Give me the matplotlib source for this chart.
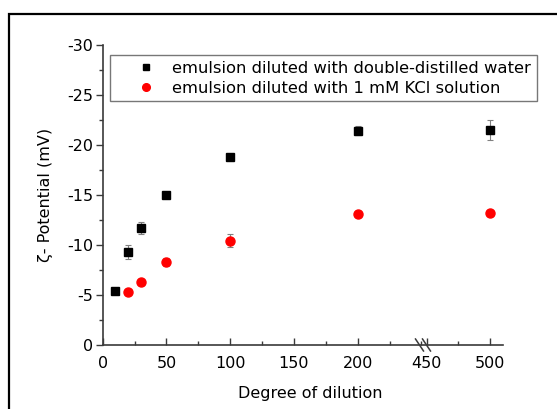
import numpy as np
import matplotlib
matplotlib.use("Agg")
import matplotlib.pyplot as plt
from matplotlib.patches import Rectangle

plt.rcParams['font.family'] = ['DejaVu Sans']

# Data
x_water = [10, 20, 30, 50, 100, 200, 500]
y_water = [-5.4, -9.3, -11.7, -15.0, -18.8, -21.4, -21.5]
e_water = [0.2, 0.7, 0.6, 0.2, 0.2, 0.45, 1.0]
x_kcl = [20, 30, 50, 100, 200, 500]
y_kcl = [-5.3, -6.3, -8.3, -10.4, -13.1, -13.2]
e_kcl = [0.2, 0.2, 0.4, 0.65, 0.2, 0.2]
label_water = "emulsion diluted with double-distilled water"
label_kcl = "emulsion diluted with 1 mM KCl solution"
x_major = [0, 50, 100, 150, 200, 450, 500]
x_minor = [25, 75, 125, 175, 225, 250, 475]
y_major = [0, -5, -10, -15, -20, -25, -30]

BRK_LO, BRK_HI, GAP = 250, 450, 4.0

def fwd(x):
    x = np.asarray(x, dtype=float)
    return np.where(x <= BRK_LO, x,
                    np.where(x >= BRK_HI, x - BRK_HI + BRK_LO + GAP,
                             BRK_LO + (x - BRK_LO) * GAP / (BRK_HI - BRK_LO)))

def inv(u):
    u = np.asarray(u, dtype=float)
    return np.where(u <= BRK_LO, u,
                    np.where(u >= BRK_LO + GAP, u - (BRK_LO + GAP) + BRK_HI,
                             BRK_LO + (u - BRK_LO) * (BRK_HI - BRK_LO) / GAP))

FS = 11.5
FSL = 11.8
fig = plt.figure(figsize=(5.57, 4.09), dpi=100)
ax = fig.add_axes([102.7/557, 1-345/409, (503-102.7)/557, (345-44.7)/409])

ax.set_xscale('function', functions=(fwd, inv))
ax.set_xlim(0, 510)
ax.set_ylim(0, -30)

ecol = '#808080'
ax.errorbar(x_water, y_water, yerr=e_water, fmt='s', color='black', ms=6,
            ecolor=ecol, elinewidth=0.8, capsize=2.5, capthick=0.8, zorder=3)
ax.errorbar(x_kcl, y_kcl, yerr=e_kcl, fmt='o', color='red', ms=6.5,
            ecolor=ecol, elinewidth=0.8, capsize=2.5, capthick=0.8, zorder=3)

spc = '#3a3a3a'
for s in ['top', 'right']:
    ax.spines[s].set_visible(False)
for s in ['left', 'bottom']:
    ax.spines[s].set_color(spc)
    ax.spines[s].set_linewidth(1.2)

ax.set_xticks(x_major)
ax.set_xticks(x_minor, minor=True)
ax.set_yticks(y_major)
ax.set_yticks(np.arange(-27.5, 0, 5), minor=True)
ax.set_yticklabels([str(v) for v in y_major])
ax.tick_params(axis='x', which='both', direction='in', colors=spc, labelcolor='black',
               labelsize=FS, pad=8)
ax.tick_params(axis='y', which='both', direction='out', colors=spc, labelcolor='black',
               labelsize=FS, pad=2)
ax.tick_params(which='major', length=5, width=1)
ax.tick_params(which='minor', length=3, width=1)

ax.set_xlabel("Degree of dilution", fontsize=FS)
ax.xaxis.set_label_coords((310-102.7)/(503-102.7), -0.135)
ax.set_ylabel("ζ- Potential (mV)", fontsize=FS, labelpad=10)

# break marks
for dx in (-3.5, 3.5):
    xc = 423 + dx
    fig.add_artist(plt.Line2D([(xc-4)/557, (xc+4)/557], [1-339/409, 1-351/409],
                              color=spc, lw=1.1, transform=fig.transFigure))

# legend
h1 = plt.Line2D([], [], marker='s', ls='none', color='black', ms=5)
h2 = plt.Line2D([], [], marker='o', ls='none', color='red', ms=5.5)
leg = fig.legend([h1, h2], [label_water, label_kcl], loc='upper left',
                 bbox_to_anchor=(110/557, 1-55/409), fontsize=FSL, frameon=True,
                 fancybox=False, edgecolor='#555555', handletextpad=-0.25,
                 borderpad=0.35, labelspacing=0.3, handlelength=3.7, borderaxespad=0)
leg.get_frame().set_linewidth(1.0)

# outer frame
fig.add_artist(Rectangle((9/557, -0.2), 1.2, 1.2 - 14/409, transform=fig.transFigure,
                         fill=False, edgecolor='black', lw=1.6))

fig.savefig("out.png", dpi=100)
